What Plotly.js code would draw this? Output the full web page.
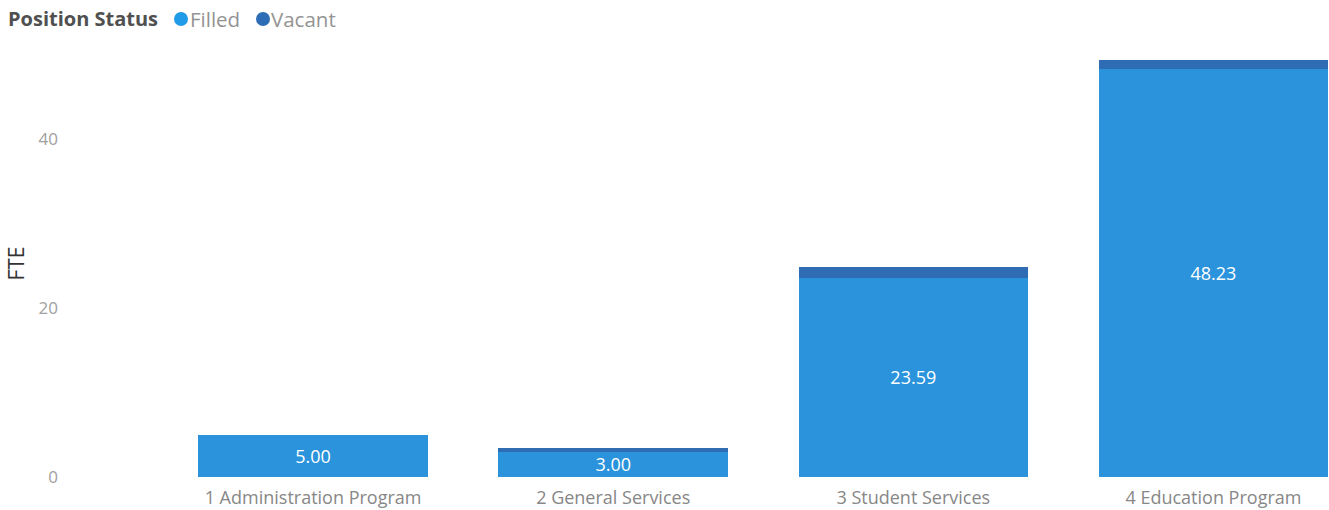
<!DOCTYPE html>
<html>
<head>
<meta charset="utf-8">
<script src="https://cdn.plot.ly/plotly-3.0.1.min.js"></script>
<style>html,body{margin:0;padding:0;background:#fff;}#chart{width:1329px;height:510px;}</style>
</head>
<body>
<div id="chart"></div>
<script>
const categories = ["1 Administration Program", "2 General Services", "3 Student Services", "4 Education Program"];
const filled = [5.00, 3.00, 23.59, 48.23];
const vacant = [0, 0.4, 1.2, 1.1];
const seriesNames = ["Filled", "Vacant"];
const seriesColors = ["#2a93dc", "#2e6db4"];
const legendDotColors = ["#1f9be8", "#2c6db5"];
const legendTitle = "Position Status";
const yTicks = [0, 20, 40];

const FONT = "Open Sans, sans-serif";
const PLOT_L = 163, PLOT_T = 50, PLOT_B = 477, W = 1329, H = 510;
const px2x = px => (px - PLOT_L) / (W - PLOT_L);
const px2y = py => (PLOT_B - py) / (PLOT_B - PLOT_T);

const traces = [
  {
    type: "bar", x: categories, y: filled, name: seriesNames[0],
    marker: {color: seriesColors[0]},
    text: filled.map(v => v.toFixed(2)),
    textposition: "inside", insidetextanchor: "middle", constraintext: "none",
    textfont: {color: "#ffffff", size: 18, family: FONT},
    showlegend: false
  },
  {
    type: "bar", x: categories, y: vacant, name: seriesNames[1],
    marker: {color: seriesColors[1]},
    textposition: "none",
    showlegend: false
  }
];

// legend drawn as text + circle markers (compact Power BI style)
const legendY = px2y(19);
const dotX = [181, 263];
const labelX = [188, 269];
const annotations = [
  {xref: "paper", yref: "paper", x: px2x(6), y: legendY, xanchor: "left", yanchor: "middle",
   text: "<b>" + legendTitle + "</b>", showarrow: false, font: {size: 20, color: "#505050", family: FONT}},
  ...seriesNames.map((n, i) => ({
    xref: "paper", yref: "paper", x: px2x(labelX[i]), y: legendY, xanchor: "left", yanchor: "middle",
    text: n, showarrow: false, font: {size: 20.5, color: "#939393", family: FONT}
  }))
];
const shapes = seriesNames.map((n, i) => ({
  type: "circle", xref: "paper", yref: "paper",
  xsizemode: "pixel", ysizemode: "pixel",
  xanchor: px2x(dotX[i]), yanchor: legendY,
  x0: -7, x1: 7, y0: -7, y1: 7,
  fillcolor: legendDotColors[i], line: {width: 0}
}));

const layout = {
  width: W, height: H,
  margin: {l: PLOT_L, r: 0, t: PLOT_T, b: H - PLOT_B, pad: 0},
  paper_bgcolor: "#ffffff", plot_bgcolor: "#ffffff",
  barmode: "stack", bargap: 0.235,
  font: {family: FONT},
  showlegend: false,
  annotations: annotations,
  shapes: shapes,
  xaxis: {
    type: "category", range: [-0.5, 3.385], fixedrange: true,
    showgrid: false, zeroline: false, showline: false, ticks: "",
    tickfont: {size: 18, color: "#878787", family: FONT},
    ticklabelstandoff: 8
  },
  yaxis: {
    range: [0, 50.5], tickvals: yTicks, ticktext: yTicks.map(String),
    showgrid: false, zeroline: false, showline: false, ticks: "",
    tickfont: {size: 17, color: "#a0a0a0", family: FONT},
    ticklabelstandoff: 104,
    title: {text: "FTE", font: {size: 21, color: "#333333", family: FONT}, standoff: 8}
  }
};

Plotly.newPlot("chart", traces, layout, {displayModeBar: false, staticPlot: true});
</script>
</body>
</html>
